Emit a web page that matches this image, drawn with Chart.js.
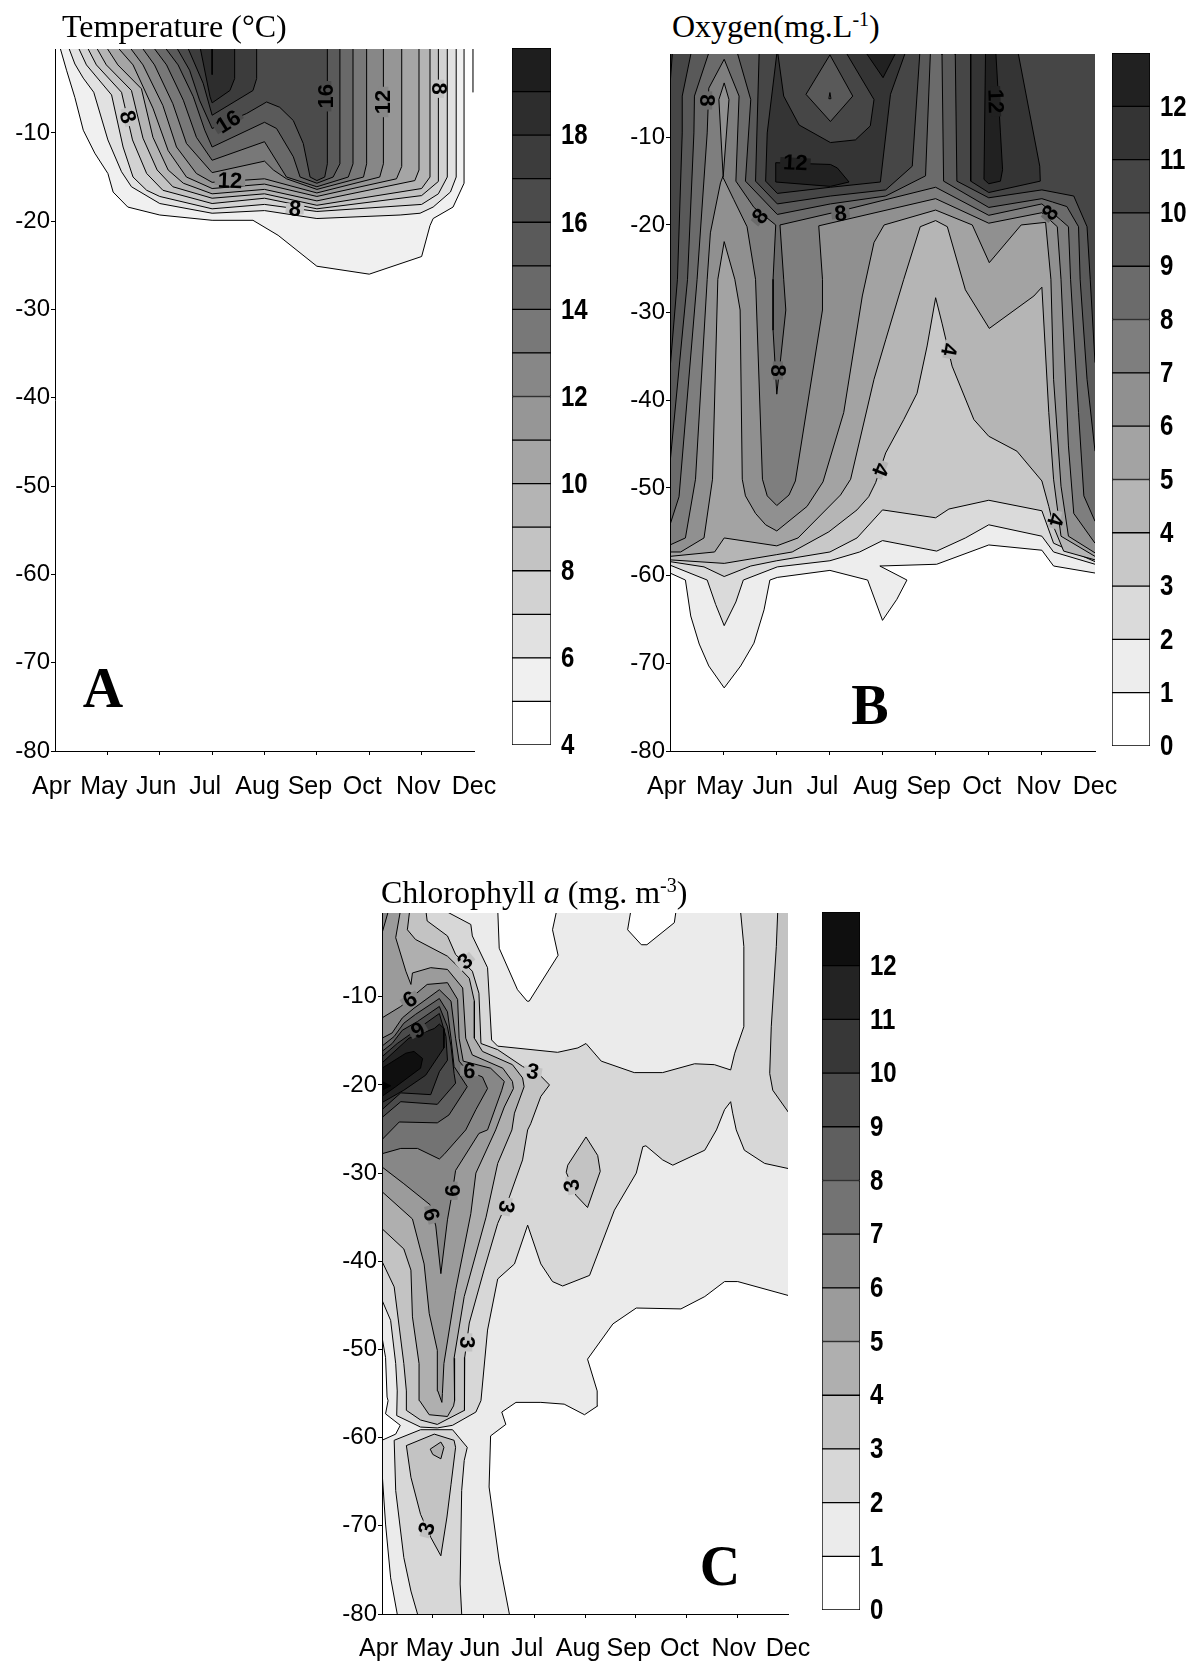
<!DOCTYPE html>
<html>
<head>
<meta charset="utf-8">
<title>Temperature, oxygen and chlorophyll a</title>
<script src="https://cdn.jsdelivr.net/npm/chart.js@4"></script>
<style>
  html, body { margin: 0; background: #fff; }
  #page { position: relative; width: 1197px; height: 1663px; overflow: hidden; }
  canvas { position: absolute; }
  .title { position: absolute; font: 32px/36px "Liberation Serif", serif; color: #000; white-space: nowrap; z-index: 2; }
  .title sup { font-size: 20px; line-height: 0; vertical-align: 11px; }
  .letter { position: absolute; font: bold 56px/56px "Liberation Serif", serif; color: #000; transform: translate(-50%, -50%); z-index: 2; }
</style>
</head>
<body>
<div id="page">
  <div class="title" style="left:62px;top:8px">Temperature (°C)</div>
  <div class="title" style="left:672px;top:8px">Oxygen(mg.L<sup>-1</sup>)</div>
  <div class="title" style="left:381px;top:874px">Chlorophyll <i>a</i> (mg. m<sup>-3</sup>)</div>
  <div class="letter" style="left:103px;top:688px">A</div>
  <div class="letter" style="left:870px;top:705px">B</div>
  <div class="letter" style="left:720px;top:1566px">C</div>
  <canvas id="chartA" style="left:0;top:40px" width="520" height="780"></canvas>
  <canvas id="barA" style="left:512px;top:30px" width="110" height="745"></canvas>
  <canvas id="chartB" style="left:600px;top:46px" width="535" height="770"></canvas>
  <canvas id="barB" style="left:1112px;top:30px" width="85" height="745"></canvas>
  <canvas id="chartC" style="left:310px;top:905px" width="520" height="770"></canvas>
  <canvas id="barC" style="left:822px;top:890px" width="85" height="750"></canvas>
</div>
<script>
// x = month index (0 = Apr ... 8 = Dec), y = depth in m. Each list is one isoline.
const monthLabels = ['Apr ', 'May ', 'Jun ', 'Jul  ', 'Aug  ', 'Sep  ', 'Oct  ', 'Nov ', 'Dec'];

// ---- Temperature ----
const temp5 = [[.08,0],[.22,-2.9],[.38,-6],[.54,-9.7],[.76,-12.3],[1.01,-14.6],[1.11,-16.7],[1.39,-18.4],[2,-19.3],[3,-19.9],[3.78,-19.9],[4.26,-21.6],[5,-25.1],[6,-26],[7,-24],[7.16,-20.5],[7.22,-19.7],[7.6,-18.4],[7.81,-15.7],[7.81,0]];
const temp6 = [[.24,0],[.38,-2.2],[.54,-3.8],[.74,-5.4],[1.01,-10.8],[1.27,-14.4],[1.46,-16.1],[2,-18],[3,-19.1],[4,-18.8],[5,-19.7],[6.59,-19.3],[6.97,-19.1],[7.22,-18.4],[7.55,-16.7],[7.66,-15],[7.66,0]];
const temp7 = [[.42,0],[.6,-2.3],[1.08,-5.7],[1.3,-11.6],[1.49,-15],[1.75,-16.5],[2,-17.2],[3,-18.6],[4,-18.1],[5,-18.9],[7,-18.1],[7.32,-16.9],[7.49,-15],[7.49,0]];
const temp8 = [[.59,0],[.79,-2.3],[1.27,-5.4],[1.48,-10.8],[1.75,-14.6],[2.06,-16.5],[3,-18],[4,-17.4],[5,-18.6],[7,-17.1],[7.32,-15.5],[7.32,0]];
const temp9 = [[.76,0],[.98,-2.3],[1.46,-5.2],[1.68,-10.6],[1.95,-14.2],[2.25,-16.1],[3,-17.4],[4,-16.9],[5,-18.2],[7,-16.3],[7.16,-15],[7.16,0]];
const temp10 = [[.95,0],[1.2,-2.3],[1.65,-5],[1.87,-10.5],[2.16,-14.2],[2.45,-15.7],[3,-16.9],[4,-16.4],[5,-17.7],[6.87,-15.4],[6.95,-14.2],[6.95,0]];
const temp11 = [[1.15,0],[1.49,-2.3],[1.87,-7.2],[2.16,-12],[2.51,-15],[3,-16.3],[4,-15.8],[5,-17.2],[6.52,-15.2],[6.62,-13.8],[6.62,0]];
const temp12 = [[1.39,0],[1.68,-2.3],[2.06,-6.9],[2.32,-11.6],[2.7,-14.6],[3,-15.6],[4,-15.2],[5,-16.8],[6.2,-15],[6.27,-13.5],[6.27,0]];
const temp13 = [[1.62,0],[1.9,-2.3],[2.25,-6.7],[2.51,-11.2],[3,-14.5],[4,-13.2],[4.17,-14.2],[4.42,-15.2],[5,-16.4],[5.89,-15],[5.95,-13.5],[5.95,0]];
const temp14 = [[1.84,0],[2.13,-2.3],[2.45,-6.3],[2.7,-10.5],[3,-13.1],[4,-11],[4.42,-15],[5,-16.1],[5.6,-15],[5.69,-13.5],[5.69,0]];
const temp15 = [[2.06,0],[2.35,-2.3],[2.64,-5.9],[2.86,-9.7],[3,-11.6],[4,-8.8],[4.23,-9.5],[4.55,-12.7],[4.68,-15],[5,-15.7],[5.31,-15],[5.44,-13.5],[5.44,0]];
const temp16 = [[2.29,0],[2.57,-2.9],[2.76,-6.3],[3,-9.5],[3.66,-7.8],[4.04,-6.5],[4.29,-7.1],[4.55,-8.6],[4.74,-11.2],[4.87,-15],[5,-15.4],[5.15,-15],[5.2,-13.5],[5.2,0]];
const temp17 = [[2.51,0],[2.83,-4.4],[3,-8],[3.78,-5.2],[3.85,-3.85],[3.85,0]];
const temp18 = [[2.76,0],[2.96,-5.9],[3,-6.6],[3.34,-5.2],[3.43,-3.85],[3.43,0]];
const temp19 = [[3,0],[3,-3.4]];
const tempEdge = [[7.98,0],[7.98,-5.4]];
const tempLabels = [
  ['8',8,1.39,-8.2,74],['16',16,3.31,-8.75,-32],['16',16,5.18,-5.85,-90],['12',12,6.27,-6.5,-90],
  ['8',8,7.33,-5,90],['12',12,3.34,-15.4,2],['8',8,4.58,-18.6,5]
];

// ---- Oxygen ----
const oxy1 = [[-.1,0],[-.1,-59.7],[0,-59.7],[.29,-60.5],[.39,-64.6],[.55,-67.8],[.73,-70.3],[1.02,-72.8],[1.33,-70.3],[1.58,-67.7],[1.77,-63.9],[1.88,-60.5],[2.02,-60.2],[3.01,-59.4],[3.72,-60.5],[4,-65.1],[4.27,-62.7],[4.46,-60.5],[3.95,-58.9],[5.02,-58.7],[6,-56.5],[7,-57.1],[7.22,-58.9],[8,-59.7],[8.1,-59.7],[8.1,0]];
const oxy2 = [[-.1,0],[-.1,-58.8],[0,-58.8],[.7,-60.5],[.86,-63.3],[1.02,-65.7],[1.24,-63],[1.38,-60.5],[2.02,-59],[3.01,-58.3],[3.57,-57.3],[4,-56],[5.02,-57.2],[5.56,-55.7],[6,-54.2],[7,-55.5],[7.22,-57.3],[8,-58.7],[8.1,-58.7],[8.1,0]];
const oxy3 = [[-.1,0],[-.1,-58.4],[0,-58.4],[.64,-59],[1.02,-60.1],[1.52,-58.9],[2.01,-58.3],[3.01,-57.3],[3.52,-55.7],[4,-52.5],[5,-53.4],[5.25,-52.4],[6,-51.4],[7,-52.6],[7.22,-56.3],[8,-58.4],[8.1,-58.4],[8.1,0]];
const oxy4 = [[-.1,0],[-.1,-58.2],[0,-58.2],[1.02,-58.6],[2.01,-57.6],[2.3,-57.3],[2.99,-55],[3.52,-52.5],[3.74,-51],[3.87,-49.4],[4.06,-46],[4.4,-42.2],[4.65,-39.2],[4.84,-33.8],[5,-28.3],[5.12,-31.2],[5.31,-36.1],[5.72,-42.2],[6,-44.1],[6.53,-45.8],[7,-49.2],[7.13,-52.1],[7.22,-54.4],[7.41,-57.2],[8,-58.2],[8.1,-58.2],[8.1,0]];
const oxy5 = [[-.1,0],[-.1,-57.8],[0,-57.8],[.84,-57.3],[1.02,-55.7],[2.01,-56.6],[2.41,-55.7],[3.21,-50.8],[3.4,-49],[3.84,-37.6],[4.06,-33.1],[4.4,-26.2],[4.71,-20.2],[5,-19.5],[5.22,-20.2],[5.56,-27.4],[6.01,-31.8],[6.85,-28.1],[7,-27.1],[7.13,-41.4],[7.22,-49],[7.36,-55.5],[8,-57.8],[8.1,-57.8],[8.1,0]];
const oxy6 = [[-.1,0],[-.1,-57.3],[0,-57.3],[.2,-57.3],[.64,-55.7],[.8,-49],[.9,-26.2],[1.02,-21.9],[1.22,-26.2],[1.32,-29.7],[1.36,-49],[1.42,-50.9],[1.61,-52.9],[1.8,-54.2],[2.01,-54.9],[2.58,-52.1],[2.88,-49.3],[3.27,-41.4],[3.62,-28.1],[3.84,-22],[4.03,-20],[5,-18.3],[5.69,-20],[6.01,-24.3],[6.61,-20],[7.07,-19.7],[7.17,-26.2],[7.22,-37.6],[7.36,-49.8],[7.5,-55.5],[8,-57.4],[8.1,-57.4],[8.1,0]];
const oxy7 = [[-.1,0],[-.1,-56.5],[0,-56.5],[.29,-55.7],[.48,-49],[.7,-26.2],[.76,-20.9],[.95,-15.2],[1,-14.4],[.92,-5.7],[1.02,-3.8],[1.11,-5.7],[1,-14.6],[1.2,-17.1],[1.45,-20.2],[1.61,-26.2],[1.74,-49],[1.83,-50.9],[2.01,-52],[2.24,-50.8],[2.36,-49.2],[2.87,-29.7],[2.87,-26.2],[2.8,-20.1],[5,-17],[6,-19.8],[7,-18.6],[7.29,-20.2],[7.36,-26.2],[7.5,-45.2],[7.6,-52.9],[8,-56.3],[8.1,-56.3],[8.1,0]];
const oxy8 = [[-.1,0],[-.1,-54.2],[0,-54.2],[.17,-51],[.51,-26.2],[.7,-9.5],[.73,-4.4],[1.02,-1.1],[1.3,-5.3],[1.24,-15],[1.58,-18],[1.99,-20],[1.94,-26.2],[1.94,-32],[2.01,-39.3],[2.08,-35.4],[2.18,-29.7],[2.14,-26.2],[2.07,-20],[3.21,-18.4],[5,-15.7],[6,-18.9],[7,-17.6],[7.35,-19.4],[7.5,-20.2],[7.54,-26.2],[7.69,-41.4],[7.79,-50.9],[8,-53.8],[8.1,-53.8],[8.1,0]];
const oxy9 = [[-.1,0],[-.1,-47.2],[0,-47.2],[.33,-26.2],[.45,-9.5],[.46,-5.3],[.75,0],[1.25,0],[1.52,-5.7],[1.42,-15],[2.02,-18.8],[3.02,-17.6],[4.06,-16.7],[4.81,-14.4],[4.9,-.6],[4.9,0],[5.12,0],[5.12,-.6],[5.15,-15],[6,-18],[7,-17],[7.47,-17.9],[7.69,-20.2],[7.72,-26.2],[7.85,-37.6],[8,-45.8],[8.1,-45.8],[8.1,0]];
const oxy10 = [[-.1,0],[-.1,-36.5],[0,-36.5],[.14,-26.2],[.23,-9.5],[.23,-5.3],[.41,0],[1.68,0],[1.61,-15],[2.02,-17.6],[3.02,-16.7],[4.06,-16],[4.56,-13.3],[4.7,-.6],[4.7,0],[5.37,0],[5.37,-.6],[5.4,-15],[6,-16.9],[7,-16],[7.6,-16.7],[7.85,-20.2],[7.91,-26.2],[8,-35.7],[8.1,-35.7],[8.1,0]];
const oxy11Corner = [[-.1,0],[-.1,-4.1],[0,-4.1],[.05,0]];
const oxy11Main = [[2.02,0],[1.83,-9.5],[1.8,-15],[2.02,-16.4],[3.02,-15.7],[3.96,-15.1],[4.15,-5.1],[4.45,0]];
const oxy11Right = [[5.66,0],[5.66,-15],[6,-16.3],[6.97,-15],[6.96,-13.3],[6.56,-.6],[6.54,0]];
const oxy10Ring = [[2.02,0],[2.14,-5.3],[2.43,-8.6],[3.02,-10.6],[3.49,-10.3],[3.77,-8.7],[3.84,-5.7],[3.34,-.6],[3.3,0]];
const oxy9Diamond = [[3.01,-.6],[3.44,-5.3],[3.02,-8.2],[2.56,-5.1],[3.01,-.6]];
const oxy8Dot = [[3.01,-4.9],[3.03,-5.6],[2.99,-5.6],[3.01,-4.9]];
const oxy12Top = [[3.65,0],[4.01,-3.2],[4.28,0]];
const oxy12Blob = [[1.99,-12.9],[3.02,-13.1],[3.15,-13.5],[3.37,-15.1],[3.02,-15.6],[1.99,-15.1],[1.99,-12.9]];
const oxy12Spike = [[5.94,0],[5.91,-14.8],[6,-15.3],[6.22,-15],[6.26,-13.7],[6.22,-9.5],[6.13,0]];
const oxyLabels = [
  ['8',8,.7,-5.8,90],['12',12,2.36,-12.9,3],['8',8,1.7,-19,-50],['8',8,3.21,-18.7,-6],['12',12,6.13,-5.9,88],
  ['8',8,7.16,-18.6,-50],['8',8,2.03,-36.6,90],['4',4,5.25,-34.2,100],['4',4,3.96,-47.9,112],['4',4,7.25,-53.6,105]
];

// ---- Chlorophyll a ----
const chl1 = [[-.1,0],[-.1,-48.6],[0,-48.6],[.07,-50.9],[.1,-55.4],[.12,-55.8],[.07,-57.3],[.36,-58.6],[.27,-59.6],[0,-60.3],[-.1,-60.3],[-.1,-63.8],[0,-63.8],[.07,-69.8],[.17,-75.9],[.3,-80],[.3,-82],[2.51,-82],[2.51,-80],[2.31,-74],[2.11,-65.6],[2.14,-59.8],[2.44,-58.5],[2.36,-57.1],[2.64,-56],[3.13,-56],[3.59,-56.2],[3.99,-57.4],[4.25,-56.4],[4.24,-54.7],[4.05,-51.1],[4.55,-47.1],[5.01,-45.3],[5.89,-45.4],[6.36,-44],[6.75,-42.3],[7.01,-42.3],[8.02,-43.9],[8.1,-43.9],[8.1,0]];
const chl0Notch = [[2.28,0],[2.31,-4.5],[2.67,-9.2],[2.86,-10.5],[2.9,-10.5],[3.47,-5.3],[3.36,-2.4],[3.45,0]];
const chl0Gap = [[4.91,0],[4.84,-2.4],[5.11,-4.1],[5.22,-4.1],[5.76,-1.6],[5.8,0]];
const chl2 = [[1.16,0],[1.75,-1.8],[1.78,-3.1],[2.08,-6.7],[2.16,-14.9],[2.28,-15.6],[3.46,-16.3],[3.86,-15.8],[4.02,-15.3],[4.32,-17.3],[4.97,-18.6],[5.53,-18.6],[6.16,-17.6],[6.55,-17.7],[6.87,-18.3],[6.95,-16.4],[7.13,-13.4],[7.13,-4.3],[7.06,0],[8.1,0],[8.1,-29.5],[8.02,-29.5],[7.54,-28.9],[7.14,-27.4],[6.98,-25.1],[6.91,-23.2],[6.87,-21.9],[6.75,-22.8],[6.59,-25.1],[6.36,-27.4],[5.73,-29.1],[5.53,-28.5],[5.2,-26.9],[5.14,-27],[5.01,-30],[4.58,-34.2],[4.09,-41.6],[3.56,-42.8],[3.36,-42.3],[3.13,-40.3],[2.87,-35.9],[2.61,-40.3],[2.28,-42],[2.08,-47.8],[1.95,-55.8],[1.85,-57.1],[1.39,-58.6],[1.09,-58.9],[.76,-58.8],[.29,-57.5],[.3,-54.7],[.27,-51.6],[.17,-46.7],[0,-44.4],[-.1,-44.4],[-.1,0]];
const chl2Low = [[.24,-60.3],[.76,-59.1],[1.39,-59.1],[1.68,-61.1],[1.62,-62.6],[1.57,-66],[1.54,-76.6],[1.57,-80],[1.57,-82],[.7,-82],[.7,-80],[.57,-77.4],[.43,-73.6],[.27,-66],[.24,-60.3]];
const chl3 = [[.86,0],[.89,-1.4],[1.29,-3.1],[1.45,-5.2],[1.78,-7.1],[1.91,-9.6],[1.95,-15.3],[2.28,-16],[2.77,-17.9],[3.13,-19],[3.3,-20],[3.13,-21.3],[2.93,-24.4],[2.87,-25.1],[2.77,-28.5],[2.51,-32.7],[2.28,-35.7],[2.01,-41],[1.72,-47],[1.63,-50.9],[1.63,-55],[1.62,-56.9],[1.09,-58.5],[.76,-58],[.48,-56.9],[.48,-54.7],[.43,-51.6],[.24,-42.9],[0,-40],[-.1,-40],[-.1,0]];
const chl3Right = [[7.8,0],[7.77,-4.3],[7.67,-13.4],[7.64,-18.7],[7.7,-20.6],[8.02,-23.2],[8.1,-23.2],[8.1,0]];
const chl3Island = [[4.02,-25.9],[4.25,-28],[4.3,-29.8],[4.05,-33.9],[3.82,-32.5],[3.63,-29.9],[3.66,-29.1],[4.02,-25.9]];
const chl3Low = [[.48,-60.9],[1.03,-59.6],[1.42,-60.3],[1.45,-61.1],[1.36,-65.3],[1.28,-69],[1.16,-73.4],[.96,-71.3],[.76,-68.7],[.57,-64.5],[.48,-60.9]];
const chl4Low = [[.95,-61.3],[1.16,-60.5],[1.22,-61.1],[1.16,-62.4],[1,-61.9],[.95,-61.3]];
const chl4 = [[.55,0],[.5,-2.4],[.66,-3.5],[1.29,-5.4],[1.52,-6.7],[1.72,-7.9],[1.82,-10.5],[1.82,-14.7],[1.98,-16.2],[2.57,-17.7],[2.77,-19.2],[2.8,-20.2],[2.61,-23.2],[2.56,-25.1],[2.28,-28.9],[2.05,-35],[1.62,-44],[1.42,-51],[1.43,-55.8],[1.41,-56.4],[1.29,-57.6],[.93,-57.4],[.74,-55.8],[.73,-51.6],[.6,-46.3],[.57,-41],[.43,-38.6],[0,-36.3],[-.1,-36.3],[-.1,0]];
const chl5 = [[.37,0],[.27,-3.3],[.47,-7.1],[.57,-8.6],[.6,-7.3],[.96,-6.7],[1.29,-6.9],[1.59,-9],[1.65,-14.7],[1.78,-16.6],[2.38,-18.1],[2.57,-19.6],[2.59,-20.4],[2.41,-22.5],[2.24,-25.1],[1.85,-30],[1.75,-34.6],[1.45,-43.3],[1.22,-51.6],[1.19,-55],[1.18,-56],[1.1,-54.7],[1.09,-50.1],[.93,-45.9],[.83,-40.3],[.6,-35.2],[0,-32.1],[-.1,-32.1],[-.1,0]];
const chl6Corner = [[-.1,0],[-.1,-2.8],[0,-2.8],[.14,0]];
const chl6 = [[-.1,-12.4],[0,-12.4],[.37,-11.1],[.89,-8.6],[1.29,-8.4],[1.49,-10.3],[1.52,-14.7],[1.6,-17.3],[2.14,-18.1],[2.41,-19.6],[2.36,-20.6],[2.08,-25.1],[1.91,-25.5],[1.45,-29.7],[1.39,-32],[1.29,-35.3],[1.16,-41.4],[1.06,-36],[.95,-33.6],[.43,-31.2],[0,-29.3],[-.1,-29.3]];
const chl7 = [[-.1,-14.7],[0,-14.7],[.2,-14.1],[.4,-12.4],[.63,-11.3],[1.13,-9.2],[1.36,-10.5],[1.45,-14.7],[1.52,-17.3],[1.68,-18.4],[1.98,-19.1],[2.08,-20.4],[1.85,-22.8],[1.65,-25.1],[1.22,-27.9],[1.13,-28.4],[.7,-27.2],[.37,-27.2],[0,-27.8],[-.1,-27.8]];
const chl8 = [[-.1,-15.6],[0,-15.6],[.24,-14.5],[.43,-13],[.66,-12],[1.13,-10.2],[1.29,-11.7],[1.36,-14.7],[1.42,-17.9],[1.68,-20.2],[1.32,-23.4],[1.09,-24.3],[.34,-24.2],[0,-26.2],[-.1,-26.2]];
const chl9 = [[-.1,-16.2],[0,-16.2],[.2,-15.3],[.4,-13.8],[.7,-12.8],[1.13,-11.1],[1.29,-13.4],[1.36,-15.6],[1.42,-18.7],[1.45,-19.8],[1.09,-22.2],[.37,-21.9],[0,-23.7],[-.1,-23.7]];
const chl10 = [[-.1,-16.8],[0,-16.8],[.3,-15.3],[1.13,-11.9],[1.26,-14.5],[1.29,-17.2],[1.13,-18.5],[.96,-21.1],[.37,-20.9],[0,-22.8],[-.1,-22.8]];
const chl11 = [[-.1,-17.5],[0,-17.5],[.53,-14.7],[1.03,-13.6],[1.13,-13.1],[1.22,-13.6],[1.22,-15.8],[.86,-18.9],[.43,-20.6],[0,-22],[-.1,-22]];
const chl12 = [[-.1,-18.1],[0,-18.1],[.47,-16.4],[.63,-16.2],[.8,-17],[.76,-18.1],[.27,-20.2],[0,-21.3],[-.1,-21.3]];
const chl13 = [[-.1,-19.6],[0,-19.6],[.17,-20.1],[0,-20.6],[-.1,-20.6]];
const chlLabels = [
  ['3',3,1.64,-6,-40],['6',6,.55,-10.3,-32],['9',9,.71,-13.8,-30],['6',6,1.72,-18.4,2],['3',3,2.97,-18.5,10],
  ['6',6,1.39,-32,-90],['6',6,.97,-34.7,75],['3',3,2.45,-33.8,100],['3',3,3.74,-31.4,-100],['3',3,1.68,-49.2,90],['3',3,.88,-70.3,-75]
];

// [level, isoline]: later entries paint over earlier ones
const tempShapes = [[5,temp5],[6,temp6],[7,temp7],[8,temp8],[9,temp9],[10,temp10],[11,temp11],[12,temp12],[13,temp13],[14,temp14],[15,temp15],[16,temp16],[17,temp17],[18,temp18],[19,temp19],[4,tempEdge]];
const oxyShapes = [[1,oxy1],[2,oxy2],[3,oxy3],[4,oxy4],[5,oxy5],[6,oxy6],[7,oxy7],[8,oxy8],[9,oxy9],[10,oxy10],[11,oxy11Corner],[11,oxy11Main],[11,oxy11Right],[10,oxy10Ring],[9,oxy9Diamond],[8,oxy8Dot],[12,oxy12Top],[12,oxy12Blob],[12,oxy12Spike]];
const chlShapes = [[1,chl1],[0,chl0Notch],[0,chl0Gap],[2,chl2],[2,chl2Low],[3,chl3],[3,chl3Right],[3,chl3Island],[3,chl3Low],[4,chl4Low],[4,chl4],[5,chl5],[6,chl6Corner],[6,chl6],[7,chl7],[8,chl8],[9,chl9],[10,chl10],[11,chl11],[12,chl12],[13,chl13]];

const SANS = '"Liberation Sans", Arial, sans-serif';
const grayTemp = l => { const g = Math.round(255 - (l - 4) * 15); return `rgb(${g},${g},${g})`; };
const grayOxy = l => { const g = Math.round(255 - l * 18.5); return `rgb(${g},${g},${g})`; };
const grayChl = l => { const g = Math.max(0, Math.round(255 - l * 20)); return `rgb(${g},${g},${g})`; };

// contour labels sit on a small patch that breaks the line
const contourText = {
  id: 'contourText',
  afterDatasetsDraw(chart, args, opts) {
    const {ctx, scales} = chart;
    ctx.save();
    ctx.beginPath();
    ctx.rect(chart.chartArea.left, chart.chartArea.top, chart.chartArea.width, chart.chartArea.height);
    ctx.clip();
    ctx.font = 'bold 22px ' + SANS;
    ctx.textAlign = 'center';
    ctx.textBaseline = 'middle';
    opts.labels.forEach(([text, level, m, d, rot]) => {
      ctx.save();
      ctx.translate(scales.x.getPixelForValue(m), scales.y.getPixelForValue(d));
      ctx.rotate(rot * Math.PI / 180);
      const w = ctx.measureText(text).width + 6;
      ctx.fillStyle = opts.gray(level);
      ctx.fillRect(-w / 2, -5, w, 10);
      ctx.fillStyle = '#000';
      ctx.fillText(text, 0, 1);
      ctx.restore();
    });
    ctx.restore();
  }
};

// the colour bar digits are bold and condensed, so they are squeezed by hand
const barTicks = {
  id: 'barTicks',
  afterDraw(chart) {
    const {ctx, chartArea} = chart;
    const s = chart.scales.y;
    ctx.save();
    ctx.font = 'bold 30px ' + SANS;
    ctx.textBaseline = 'middle';
    ctx.fillStyle = '#000';
    s.ticks.forEach(t => {
      if (t.value === s.max) return;
      ctx.save();
      ctx.translate(chartArea.right + 10, s.getPixelForValue(t.value) + 1);
      ctx.scale(0.8, 1);
      ctx.fillText(String(t.value), 0, 0);
      ctx.restore();
    });
    ctx.restore();
  }
};

function contourChart(id, shapes, labels, gray, geo) {
  const datasets = shapes.slice().reverse().map(([level, pts]) => ({
    data: pts.map(([x, y]) => ({x, y})),
    showLine: true,
    fill: 'shape',
    tension: 0,
    clip: 0,
    pointRadius: 0,
    borderWidth: 1,
    borderColor: pts === tempEdge ? '#666' : '#000',
    backgroundColor: gray(level)
  }));
  return new Chart(document.getElementById(id), {
    type: 'scatter',
    data: {datasets},
    plugins: [contourText],
    options: {
      responsive: false,
      animation: false,
      events: [],
      layout: {padding: {top: geo.top, right: geo.right, left: 0, bottom: 0}},
      plugins: {legend: {display: false}, tooltip: {enabled: false}, contourText: {labels, gray}},
      scales: {
        x: {
          type: 'linear', min: 0, max: 8,
          afterFit(s) { s.height = geo.bottom; s.paddingLeft = 0; s.paddingRight = 0; },
          ticks: {stepSize: 1, autoSkip: false, maxRotation: 0, padding: geo.labelPad, color: '#000',
            font: {family: SANS, size: 25}, callback: v => monthLabels[v]},
          grid: {drawOnChartArea: false, tickLength: 4, tickColor: c => (c.index === 0 || c.index === 8) ? 'rgba(0,0,0,0)' : '#000'},
          border: {color: '#000', z: 1}
        },
        y: {
          type: 'linear', min: -80, max: -0.5,
          afterFit(s) { s.width = geo.left; s.paddingTop = 0; s.paddingBottom = 0; },
          ticks: {stepSize: 10, includeBounds: false, padding: 1, color: '#000',
            font: {family: SANS, size: 24}, callback: v => String(v)},
          grid: {drawOnChartArea: false, tickLength: 4, tickColor: '#000'},
          border: {color: '#000', z: 1}
        }
      }
    }
  });
}

function colorBar(id, lo, hi, step, gray, geo) {
  const datasets = [];
  for (let l = lo; l < hi; l++) {
    datasets.push({data: [[l, l + 1]], backgroundColor: gray(l), borderColor: '#000', borderWidth: 1,
      borderSkipped: false, barPercentage: 1, categoryPercentage: 1, grouped: false});
  }
  return new Chart(document.getElementById(id), {
    type: 'bar',
    data: {labels: [''], datasets},
    plugins: [barTicks],
    options: {
      responsive: false,
      animation: false,
      events: [],
      layout: {padding: {top: geo.top, bottom: geo.bottom, left: 0, right: 0}},
      plugins: {legend: {display: false}, tooltip: {enabled: false}},
      scales: {
        x: {display: false},
        y: {
          position: 'right', min: lo, max: hi,
          afterFit(s) { s.width = geo.labelWidth; s.paddingTop = 0; s.paddingBottom = 0; },
          grid: {display: false},
          border: {display: false},
          ticks: {stepSize: step, display: false}
        }
      }
    }
  });
}

contourChart('chartA', tempShapes, tempLabels, grayTemp, {left: 55, top: 9, right: 46, bottom: 69, labelPad: 17});
contourChart('chartB', oxyShapes, oxyLabels, grayOxy, {left: 70, top: 8, right: 40, bottom: 65, labelPad: 17});
contourChart('chartC', chlShapes, chlLabels, grayChl, {left: 72, top: 8, right: 42, bottom: 61, labelPad: 16});
colorBar('barA', 4, 20, 2, grayTemp, {top: 18, bottom: 30, labelWidth: 71});
colorBar('barB', 0, 13, 1, grayOxy, {top: 23, bottom: 29, labelWidth: 47});
colorBar('barC', 0, 13, 1, grayChl, {top: 22, bottom: 30, labelWidth: 47});
</script>
</body>
</html>
